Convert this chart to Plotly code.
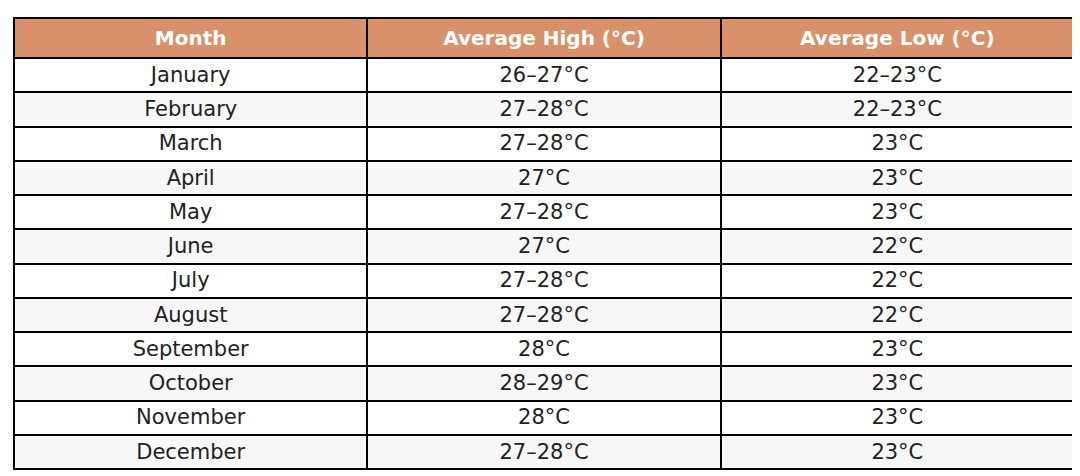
import plotly.graph_objects as go

months = ["January", "February", "March", "April", "May", "June", "July",
          "August", "September", "October", "November", "December"]
avg_high = ["26–27°C", "27–28°C", "27–28°C", "27°C", "27–28°C", "27°C",
            "27–28°C", "27–28°C", "28°C", "28–29°C", "28°C", "27–28°C"]
avg_low = ["22–23°C", "22–23°C", "23°C", "23°C", "23°C", "22°C",
           "22°C", "22°C", "23°C", "23°C", "23°C", "23°C"]
headers = ["Month", "Average High (°C)", "Average Low (°C)"]

row_colors = ["#FFFFFF" if i % 2 == 0 else "#F7F7F7" for i in range(len(months))]

fig = go.Figure(go.Table(
    columnwidth=[1, 1, 1],
    header=dict(values=["<b>%s</b>" % h for h in headers],
                fill_color="#D9916A", line=dict(color="black", width=2),
                font=dict(family="DejaVu Sans", size=20, color="white"),
                align="center", height=35),
    cells=dict(values=[months, avg_high, avg_low],
               fill_color=[row_colors] * 3, line=dict(color="black", width=2),
               font=dict(family="DejaVu Sans", size=21, color="#222222"),
               align="center", height=34.25),
    domain=dict(x=[6 / 1080, 1066 / 1080], y=[0, 1 - 10 / 476]),
))
fig.update_layout(width=1080, height=476, margin=dict(l=0, r=0, t=0, b=0),
                  paper_bgcolor="white")
fig.write_html("out.html")
